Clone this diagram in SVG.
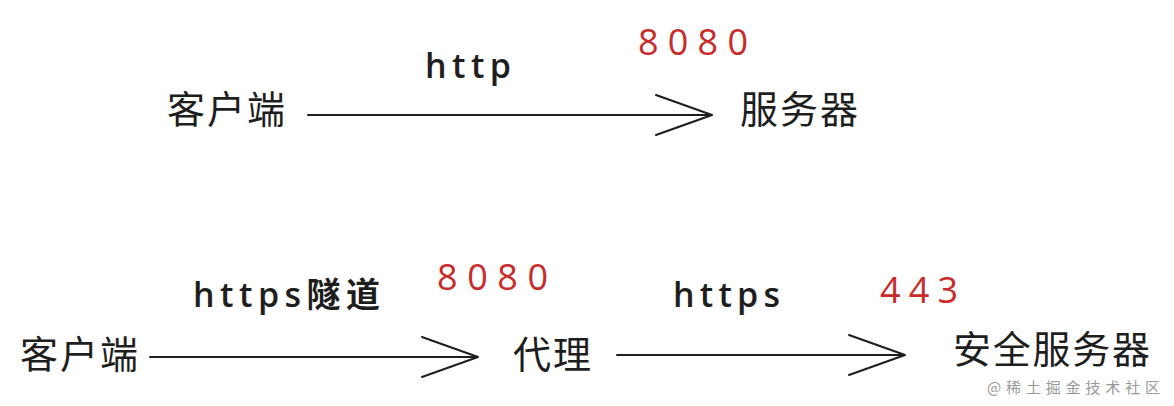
<svg xmlns="http://www.w3.org/2000/svg" width="1174" height="406" viewBox="0 0 1174 406">
<style>
.n{font-family:"Noto Sans CJK SC","Noto Sans",sans-serif;font-size:38px;fill:#1e1e1e}
.h{font-family:"Open Sans","Noto Sans CJK SC",sans-serif;font-size:34px;fill:#1e1e1e;font-weight:600}
.r{font-family:"Open Sans",sans-serif;font-size:36px;fill:#c92a2a}
.l{stroke:#1e1e1e;stroke-width:2;fill:none;stroke-linecap:round;stroke-linejoin:round}
.w{font-family:"Noto Sans CJK SC",sans-serif;font-size:15px;fill:#999}
</style>
<rect width="1174" height="406" fill="#fff"/>
<g id="connectors">
<path class="l" d="M308 115 L712 115 M656 95 L712 115 L656 135"/>
<path class="l" d="M150 357 L478 357 M422 337 L478 357 L422 377"/>
<path class="l" d="M617 355 L905 355 M849 335 L905 355 L849 375"/>
</g>
<g id="client1"><text class="n" x="167" y="123" textLength="118">客户端</text></g>
<g id="server1"><text class="n" x="740" y="123" textLength="118">服务器</text></g>
<g id="client2"><text class="n" x="20" y="368" textLength="118">客户端</text></g>
<g id="proxy"><text class="n" x="513" y="368" textLength="78">代理</text></g>
<g id="secure"><text class="n" x="953" y="363" textLength="197">安全服务器</text></g>
<g id="labels">
<text class="h" x="425" y="78" textLength="86">http</text>
<text class="r" x="638" y="55" textLength="110">8080</text>
<text class="h" x="193" y="307" textLength="187">https隧道</text>
<text class="r" x="437" y="290" textLength="111">8080</text>
<text class="h" x="673" y="307" textLength="107">https</text>
<text class="r" x="880" y="303" textLength="78">443</text>
</g>
<text class="w" x="987" y="393" textLength="173">@稀土掘金技术社区</text>
</svg>
